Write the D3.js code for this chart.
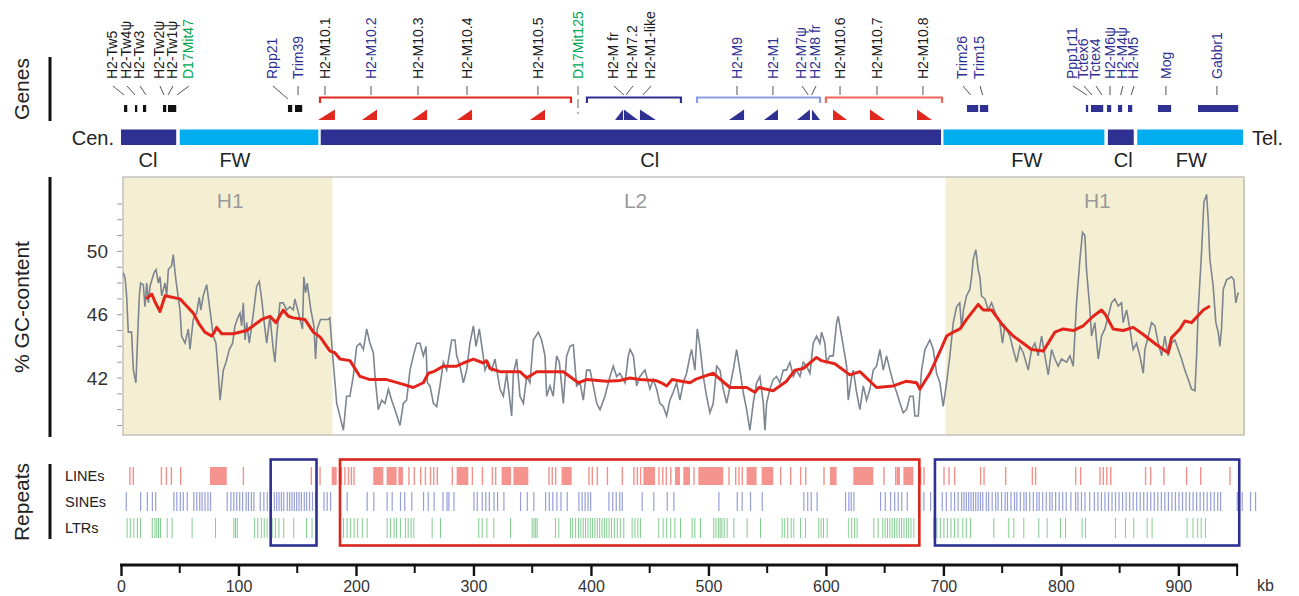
<!DOCTYPE html>
<html><head><meta charset="utf-8">
<script src="https://cdn.jsdelivr.net/npm/d3@7"></script>
<style>
body{margin:0;background:#fff;}
text{font-family:"Liberation Sans",Arial,Helvetica,sans-serif;}
</style></head>
<body><svg id="c" width="1299" height="596"></svg>
<script>
// ---------------- DATA ----------------
// Genomic segments (kb)
const segTypes  = ["Cl","FW","Cl","FW","Cl","FW"];
const segStart  = [0, 50, 170, 700, 840, 865];
const segEnd    = [47, 168, 698, 837, 862, 955];
const segLabelKb= [23, 97, 450, 771, 853, 911];

// Isochore regions of GC plot
const isoNames = ["H1","L2","H1"];
const isoStart = [0, 180, 700];
const isoEnd   = [180, 700, 955];
const isoLabelKb = [93, 438, 831];

// Gene labels: [name, label kb, connector target kb, colour key]
const geneLabels = [
 ["H2-Tw5",-7.7,2.6,"k"],["H2-Tw4\u03c8",4.3,11.9,"k"],["H2-Tw3",15.3,21.3,"k"],
 ["H2-Tw2\u03c8",32.3,36.6,"k"],["H2-Tw1\u03c8",43.4,40,"k"],["D17Mit47",57,47.7,"g"],
 ["Rpp21",128.5,142.1,"b"],["Trim39",150.7,150.7,"b"],
 ["H2-M10.1",173.6,173.6,"k"],["H2-M10.2",212.8,212.8,"b"],["H2-M10.3",252.8,252.8,"k"],
 ["H2-M10.4",294.5,294.5,"k"],["H2-M10.5",354.9,354.9,"k"],["D17Mit125",389,389,"g"],
 ["H2-M fr",418.8,428.1,"k"],["H2-M7.2",434.9,429.8,"k"],["H2-M1-like",450.3,444.3,"k"],
 ["H2-M9",524.3,524.3,"b"],["H2-M1",554.9,554.9,"b"],["H2-M7\u03c8",578.8,585,"b"],["H2-M8 fr",590.7,587.9,"b"],
 ["H2-M10.6",612,612,"k"],["H2-M10.7",643.5,643.5,"k"],["H2-M10.8",682.6,682.6,"k"],
 ["Trim26",715.8,723.2,"b"],["Trim15",730.3,733.4,"b"],
 ["Ppp1r11",809.4,822,"b"],["Tctex6",818.8,826.4,"b"],["Tctex4",829,835,"b"],
 ["H2-M6\u03c8",841.8,841.8,"b"],["H2-M4\u03c8",852,850.8,"b"],["H2-M5",861.4,859.8,"b"],
 ["Mog",889.4,889.4,"b"],["Gabbr1",932.8,932.8,"b"]
];
// Gene blocks [start kb, end kb, colour key]
const geneBlocks = [
 [2.6,6,"k"],[11.9,14.5,"k"],[18.7,22.1,"k"],[35.7,39.2,"k"],[40,47.7,"k"],
 [142.1,146.4,"k"],[148.1,154.9,"k"],
 [720.1,730.3,"b"],[731.1,738.8,"b"],[821.3,823.9,"b"],[825.6,836.7,"b"],[839.2,843.5,"b"],
 [848.6,852.8,"b"],[857.1,861.4,"b"],[882.6,894.5,"b"],[916.7,951.6,"b"]
];
// Oriented gene triangles [start, end, orientation, colour key]
const geneTriangles = [
 [167.7,182.1,"L","r"],[205.1,217.9,"L","r"],[247.7,260.5,"L","r"],[286,298.8,"L","r"],[348.1,360.9,"L","r"],
 [420.5,427.3,"L","b"],[428.1,440,"R","b"],[441.7,455.3,"R","b"],
 [517.5,530.3,"L","b"],[547.3,559.2,"L","b"],[575.4,586.4,"L","b"],[588.1,595,"R","b"],
 [606,618,"R","r"],[637.5,650.3,"R","r"],[677.5,690.3,"R","r"]
];
// Gene cluster brackets [start, end, colour key]
const brackets = [[169.4,383,"r"],[396.6,476.6,"b"],[490.3,595,"lb"],[600,698.8,"lr"]];

// GC content (kb, %GC) raw sliding window
const gcRaw = [
[2,48.65],[3.5,48.3],[4.8,47.2],[6.2,44.9],[9,44.9],[10.5,42.5],[12.7,41.7],[14.2,44.65],[15.6,47.2],[16.7,48],[19,47.9],[20.4,46.5],[21.9,48],[23.3,46.75],[24.7,47.8],[28.1,48.65],[29.8,48.85],[31.8,48],[33.2,48.4],[34.6,47.2],[37.5,48],[38.9,47.2],[40.3,48.85],[43.1,49.1],[44.5,49.8],[46,48.65],[47.4,47.8],[50.2,46.3],[51.6,44.65],[54.5,44.2],[57.3,45.1],[58.7,43.8],[61.5,45.7],[64.4,46.1],[66.6,47.1],[68,46.3],[70,47.2],[72.9,47.9],[75.7,46.3],[78.6,44.65],[80.8,44.2],[82.8,42.3],[84.3,40.6],[87.1,42.5],[89.4,43],[92.2,43.8],[95,44.2],[97,45.3],[99.9,45.9],[101.3,46.1],[102.7,45.3],[104.1,46.75],[105.6,44.4],[107,45.5],[109.2,44.2],[112,45.7],[115.5,47.8],[117.7,48.1],[119.7,47],[122.5,45.1],[124,44.2],[126.8,45.9],[129.6,43.8],[131,43],[132.5,44.65],[135.3,46.75],[138.1,46.75],[141,46.3],[143.8,46.5],[146.6,46.3],[148,47],[151.7,45.9],[154.5,45.1],[155.6,48.4],[157.1,47.4],[158.5,48],[161.6,46.3],[164.2,45.3],[165.6,43.2],[167,45.1],[169.8,45.7],[172.6,45.7],[176.3,45.7],[177.7,45.8],
[180,43.6],[183.6,40.4],[189.3,38.7],[192,40.85],[194.8,40.85],[197.7,42.1],[200.6,44],[203.4,44.2],[206.3,43.8],[209.1,45.1],[211.9,44.2],[214.8,43.6],[216.2,42.1],[219,40],[221.9,40.6],[224.7,40.4],[227.6,41.3],[230.4,40.6],[233.2,40],[237.5,39],[240.3,40.4],[243.1,40.6],[246,42.5],[248.8,43.4],[251.7,44.2],[254.5,44.2],[257.3,43.4],[259.6,44],[260.8,41.7],[263,41.5],[265.9,40.4],[268.7,40.2],[271.5,41.5],[274.4,43],[277.2,42.5],[281.5,44.4],[284.3,44.4],[285.7,43.4],[288.6,42.75],[291.4,41.7],[294.2,42.5],[297,44.2],[299.9,45.3],[302.2,44],[305,45.1],[307.9,43.6],[309.8,42.5],[312.7,43],[315.5,42.5],[318.3,43.2],[322.6,41.3],[325.4,40.85],[328.3,42.3],[332.5,39.6],[334,42.3],[336.8,43.2],[339.6,40.85],[342.5,40.4],[345.3,42.1],[348.1,41.7],[351,44.4],[355.2,44.9],[358,44.4],[360.9,43.4],[362.3,40.85],[365.1,41.5],[367.9,40.85],[370.8,43.4],[373.1,43],[376.5,40.4],[379.3,43.4],[382.2,44],[385,44.1],[387.8,41.5],[390.7,41.7],[393.5,40.6],[396.3,42.5],[399.2,42.5],[402,41.5],[404.9,40.4],[407.7,40],[411.9,40.85],[416.2,42.1],[419,42.75],[421.9,42.1],[424.7,42.3],[429,41.7],[431.8,43.4],[433.3,43.8],[436.1,43.4],[438.9,41.5],[441.7,42.1],[446,42.5],
[450.2,41.3],[453,41.9],[455.9,41.3],[458.7,40.4],[461.6,40.2],[464.4,39.6],[467.2,40.6],[470,41.1],[472.9,41.7],[475.7,40.6],[478.6,41.7],[481.4,42.3],[484.3,43.4],[485.7,43.8],[488.5,42.5],[490.5,45.1],[492.8,44],[495.6,42.1],[498.4,40.85],[501.3,39.8],[504.1,40.4],[507,42.75],[509.8,42.5],[512.6,41.3],[515.5,40.4],[521.1,42.5],[524,43.8],[526.8,42.5],[529.6,41.1],[532.5,40],[535.3,38.7],[538.1,40.4],[541,41.7],[543.8,42.1],[546.7,40.4],[548.1,38.7],[549.5,40.4],[552.3,41.3],[555.1,41.9],[558,42.1],[560.8,41.7],[563.7,42.5],[566.5,42.5],[569.4,43],[572.2,42.1],[575,42.5],[577.9,42.1],[580.7,43],[583.5,42.75],[586.4,42.3],[589.2,44.2],[592,44.65],[594.9,44.2],[596.3,44.9],[599.1,44.2],[600.5,43],[603.4,43.4],[606.2,43.4],[609.1,45.5],[610.5,45.9],[613.3,44.65],[616.2,43.4],[617.6,42.75],[619,40.6],[621.9,42.1],[623.3,42.5],[626.1,41.1],[628.9,40],[631.8,41.5],[634.6,40.6],[637.5,41.3],[640.3,42.5],[643.1,42.75],[646,43.8],[648.8,42.5],[651.6,43.4],[654.5,42.5],[657.3,41.7],[660.2,41.1],[663,40.4],[665.8,39.8],[668.6,40],[671.5,40.85],[674.3,40.85],[675.7,39.6],[678.6,39.6],[681.4,42.5],[684.3,43.8],[687.1,44.2],[688.5,44.4],
[691.4,43.8],[694.2,42.3],[697,41.7],[699.8,40.2],[702.7,41.7],[705.5,43.4],[708.4,45.5],[711.2,46.5],[713.9,46.75],[715.5,45.1],[717.1,46.3],[719.7,47.2],[722.5,47.6],[724,48.4],[725.4,49.5],[727.6,50.1],[729.6,48.85],[731,48.4],[732.4,47.2],[735.3,47],[738.1,46.3],[741,46.75],[745.2,45.9],[748,45.5],[750.3,44.2],[752.3,45.3],[756.6,44.65],[759.4,43.8],[762.3,43],[765.1,44],[768,43.6],[772.2,42.5],[775,43.8],[777.9,44.2],[780.7,43.4],[783.6,44.65],[786.4,43.4],[789.2,42.2],[792.1,43.8],[794.9,43.2],[797.7,42.75],[800.5,43.2],[804.8,43],[807.7,43.4],[810.5,42.75],[813.3,46.75],[816.2,49.5],[818.4,51.2],[820.4,51],[821.8,48.85],[824.7,46.3],[826.1,44.65],[828.9,45.5],[831.8,43.2],[834.6,44.65],[837.4,45.1],[840.3,45.9],[843.1,46.75],[845.9,47],[848.8,46.55],[851.6,46.75],[853,45.5],[855.9,46.3],[858.7,45.1],[861.5,43.8],[864.4,44.2],[867.2,43.4],[870.1,42.3],[871.5,43.8],[874.4,44.65],[877.2,45.5],[880,45.3],[882.9,44.2],[885.7,43.4],[888.5,44.65],[891.3,43.4],[894.2,44.2],[897,44.4],[899.9,43.8],[902.7,43.2],[905.5,42.5],[908.4,41.9],[911.2,41.3],[914.1,41.2],[915.5,43.4],[916.9,46.3],[919.7,49.9],[921.7,53.1],[924,53.6],[925.4,52],[926.8,49.5],[929.6,47.8],[931.9,45.5],[933.9,44.9],[935.3,44],[936.7,45.1],[938.2,47.6],[941,48.2],[945.2,48.4],[947.2,48.2],[948.9,46.75],[950.9,47.4]
];
// GC content smoothed
const gcSmooth = [
[21.3,47],[26.2,47.3],[29,46.8],[33.2,46.2],[37.5,47.2],[50.2,47],[55.9,46.55],[61.5,46.1],[66.6,45.4],[71.4,44.9],[77.1,44.65],[79.5,44.9],[81.4,45.2],[85.7,44.8],[95.6,44.8],[107,45],[112.6,45.3],[119.7,45.7],[126.8,45.9],[131.9,45.5],[138.1,46.3],[142.4,45.9],[146.6,45.8],[156.5,45.7],[163.7,44.9],[169.4,44.6],[177.9,43.7],[182,43.6],[186.4,43.2],[194.9,43.1],[203.4,42.1],[212,41.9],[226.1,41.9],[240.3,41.6],[248.8,41.4],[257.3,41.7],[261.6,42.3],[266,42.4],[274.4,42.75],[285.7,42.75],[291.4,42.95],[299.9,43.2],[308.4,42.95],[311,43.1],[314.1,42.6],[322.6,42.4],[339.6,42.4],[345.3,42],[353.8,42.4],[376.5,42.4],[389.3,41.7],[396.3,41.9],[413.4,41.8],[425,41.85],[433.3,42],[441.7,41.9],[455,41.85],[460,41.7],[464.4,41.5],[469,41.9],[484.3,41.7],[490,41.95],[504.1,42.3],[518.3,41.4],[532.5,41.4],[539.6,41.1],[543,41.4],[555.1,41.2],[566.5,41.8],[573.6,42.5],[580.7,42.6],[592,43.3],[596,43.1],[607.6,42.9],[620.4,42.2],[628.9,42.4],[643.1,41.4],[657.3,41.5],[668.6,41.8],[677.2,41.7],[680,41.3],[688.5,42.3],[698.4,43.9],[702.7,44.65],[708.4,44.9],[714.1,45.1],[719.7,45.7],[729.6,46.65],[734,46.3],[741,46.3],[750.9,45.3],[759.4,44.65],[767.9,44.2],[775,43.8],[785,43.7],[794.9,44.9],[802,45.1],[810.5,45],[819,45.3],[827.5,45.9],[834.6,46.3],[838,46],[844.5,45.1],[853,45],[861.6,45.2],[870.1,44.75],[881.4,44.1],[891.3,43.6],[894.2,44.55],[901.3,45.1],[905.5,45.6],[911.2,45.5],[921.2,46.3],[926.8,46.55]
];
const gcTickLabels = [42, 46, 50];
const gcMinorTicks = [39,40,41,42,43,44,45,46,47,48,49,50,51,52,53];

// Repeats: single elements (kb) and dense blocks [start,end]
const lineSingles = [7,9.9,33.8,38,42.3,50.2,103.6,161.4,168.8,187,190,193,195.5,197.7,244.5,249,254.5,258.5,262.8,265.6,268.6,281.4,298.5,307,315.5,318.3,363.7,366.5,369.4,397.7,400.6,404.8,413.4,426.1,436,438.9,441.7,457.3,460.5,463.5,467.3,487.1,516.9,522.6,525.4,528.2,560.9,569.4,577.9,582.2,597.8,648.8,658.8,680,682.9,699.9,704.2,709,731.1,734,752.4,775.1,777.9,812,816.2,832.7,835.5,838.5,841.8,871.5,875.8,887.1,906.4,918.4,943.3];
const lineBlocks = [[75.7,90],[179.3,183.6],[214.7,223.2],[226.1,234.6],[236,240],[285.7,295.6],[324,332],[334,346.7],[375,383.6],[444.6,454.5],[471.5,475.8],[478.6,484.3],[491.4,512.6],[532.5,541],[545.3,555.2],[603.4,609.1],[623.3,640.3],[660.2,663],[665.9,674.4]];
const sineSingles = [4,16.2,21.9,26.2,29,44.5,47,50,52.5,55.9,61.5,64,66.5,68.5,71,73.5,75.7,89.9,93,95.5,98,100.5,103,106,108,110.5,112.6,118,121.1,124,127,130,132,134,136,138,141,143,145,147,149,151,153,155.5,157.5,160,162.5,165.1,172.3,175,177.9,192,209,214.7,226,230.3,237.4,241,247,257,261,266,273.5,277,278.6,282.9,299.9,302.7,307,310,313,317,320,325.4,339.6,345.3,350.9,360.9,364,367,370.5,374,379.3,389.2,392,394.5,397,399.2,414.8,418,421,424,426.1,443.1,453,464.4,470.1,508.4,524,528.2,535.3,545.3,580.7,584,587,592,616.2,619,621,623.3,646,650,654.5,658,661,664,668.7,682.9,688.6,698.5,702,706,709,712,715,717,719,721,723,725,727,729,731,733,736,738,741,744,746,749,752,754,757,760,762,765,768,770,773,776,779,781,784,787,790,792,795,798,801,804,808,812,814,817,820,824,828,831,834,837,840,843,846,849,852,855,858,861,864,867,870,873,876,879,882,885,888,891,894,897,900,903,906,909,912,915,918,921,924,927,930,933,935.4,949.6,953.8,960.9,965.2];
const ltrSingles = [4.8,7.5,10.5,13.5,16.2,26.2,28.5,30,31.5,33.2,38.9,43.1,60.1,80,95.6,97,98.5,113.3,116,119,121.5,124,128.2,131,134,138.1,146.6,157.4,162.2,186.4,189,192,195,198,201,205,209.1,226.1,229,232,234,237.4,241.7,244,246.5,248.8,264.4,271.5,304.1,307,311,316.9,331.1,349.5,351,352.5,353.8,369.4,372.2,382.1,384,386.5,389,391,393,395,397,399,401,403,405,407,409,411,413,415,417,419.5,422,424.5,427.5,434.6,437,439.5,441.7,457.3,461,464,467.5,471,475.8,485.7,488,492.8,504.1,506,508,509.5,511,513,515.5,521.2,532.5,543.9,562.3,564.5,567,570,572.2,577.9,582.2,593.5,595.5,597.5,600.6,619,621.5,624,626.1,640.3,644,648,650,652,654,656,658,660,662,664,666,668,670,672,674.4,691.4,694,697,700,703,706,709,712,716,719,722.6,742.5,755.2,759.5,768,780.8,787.9,799.2,803.5,817.6,820.5,846,854.5,861.6,873,877.2,907,912,916,919,922.6];
const repeatRows = ["LINEs","SINEs","LTRs"];
const repeatBoxes = [[127.4,166.4,"b"],[186.4,679.5,"r"],[692.8,951.8,"b"]];

const axisMajor = [0,100,200,300,400,500,600,700,800,900];
const axisMinor = [50,150,250,350,450,550,650,750,850,950];

// ---------------- DRAW ----------------
const col = {k:"#1a1a1a", b:"#2e3192", g:"#00a651", r:"#e0281e", lr:"#f2665a", lb:"#8c9de3"};
const svg = d3.select("#c");
const x = d3.scaleLinear().domain([0,955]).range([121,1243]);
const y = d3.scaleLinear().domain([38.4,54.7]).range([435,177]);

// left panel titles and bars
const titles = [["Genes",89,57,121],["% GC-content",307,177,437],["Repeats",502,464,539]];
titles.forEach(t=>{
  svg.append("text").attr("transform",`translate(29,${t[1]}) rotate(-90)`)
    .attr("text-anchor","middle").attr("font-size",21).attr("fill","#222").text(t[0]);
  svg.append("line").attr("x1",50).attr("x2",50).attr("y1",t[2]).attr("y2",t[3])
    .attr("stroke","#111").attr("stroke-width",3);
});

// gene labels
const gl = svg.append("g");
geneLabels.forEach(d=>{
  gl.append("text").attr("transform",`translate(${x(d[1])},79) rotate(-90)`)
    .attr("dy","0.36em").attr("font-size",14).attr("fill",col[d[3]]).text(d[0]);
  if(d[0]==="D17Mit125"){
    gl.append("line").attr("x1",x(d[1])).attr("x2",x(d[2])).attr("y1",86).attr("y2",114)
      .attr("stroke","#666").attr("stroke-width",1).attr("stroke-dasharray","9,4");
  } else {
    gl.append("line").attr("x1",x(d[1])+ (d[1]===d[2]?0:1)).attr("x2",x(d[2])).attr("y1",86).attr("y2",d[0]==="Rpp21"?99:95)
      .attr("stroke","#555").attr("stroke-width",1);
  }
});
// brackets
brackets.forEach(b=>{
  svg.append("path").attr("d",`M${x(b[0])},103 V97.5 H${x(b[1])} V103`)
    .attr("fill","none").attr("stroke",col[b[2]]).attr("stroke-width",2.2);
});
// gene blocks
svg.selectAll(".gb").data(geneBlocks).join("rect")
  .attr("x",d=>x(d[0])).attr("width",d=>Math.max(1.5,x(d[1])-x(d[0])-0.8))
  .attr("y",105).attr("height",7).attr("fill",d=>d[2]==="k"?"#111":"#2e3192");
// triangles
svg.selectAll(".tri").data(geneTriangles).join("path")
  .attr("d",d=>{const a=x(d[0]),b=x(d[1]);
    return d[2]==="L"?`M${a},120 L${b},120 L${b},109.5 Z`:`M${a},120 L${a},109.5 L${b},120 Z`;})
  .attr("fill",d=>d[3]==="r"?"#e0281e":"#2e3192");

// segment bar
segTypes.forEach((t,i)=>{
  svg.append("rect").attr("x",x(segStart[i])).attr("width",x(segEnd[i])-x(segStart[i]))
    .attr("y",129.5).attr("height",15.5).attr("fill",t==="Cl"?"#2e3192":"#00aeef");
  svg.append("text").attr("x",x(segLabelKb[i])).attr("y",167).attr("text-anchor","middle")
    .attr("font-size",20).attr("fill","#222").text(t);
});
svg.append("text").attr("x",114).attr("y",145).attr("text-anchor","end").attr("font-size",20).attr("fill","#222").text("Cen.");
svg.append("text").attr("x",1252).attr("y",145).attr("font-size",20).attr("fill","#222").text("Tel.");

// GC panel
isoNames.forEach((n,i)=>{
  if(n==="H1") svg.append("rect").attr("x",x(isoStart[i])+2).attr("width",x(isoEnd[i])-x(isoStart[i])-(i===0?2:0))
    .attr("y",177).attr("height",258).attr("fill","#f4efd2");
  svg.append("text").attr("x",x(isoLabelKb[i])).attr("y",208).attr("text-anchor","middle")
    .attr("font-size",21).attr("fill","#9a9a9a").text(n);
});
svg.append("rect").attr("x",x(0)+2).attr("y",177).attr("width",x(955)-x(0)-1).attr("height",258)
  .attr("fill","none").attr("stroke","#b5b5b5").attr("stroke-width",1.2);
gcMinorTicks.forEach(v=>{
  svg.append("line").attr("x1",117).attr("x2",122).attr("y1",y(v)).attr("y2",y(v))
    .attr("stroke","#999").attr("stroke-width",1);
});
gcTickLabels.forEach(v=>{
  svg.append("text").attr("x",108).attr("y",y(v)).attr("dy","0.35em").attr("text-anchor","end")
    .attr("font-size",19).attr("fill","#333").text(v);
});
const lineGen = d3.line().x(d=>x(d[0])).y(d=>y(d[1]));
svg.append("path").attr("d",lineGen(gcRaw)).attr("fill","none").attr("stroke","#7d8590").attr("stroke-width",1.6);
svg.append("path").attr("d",lineGen(gcSmooth)).attr("fill","none")
  .attr("stroke","#e3241b").attr("stroke-width",3).attr("stroke-linejoin","round");

// Repeats
const rowY = [467,492,518], rowH = [18,19,20];
const rowCol = ["#f0625a","#5d6bc6","#2eae45"];
repeatRows.forEach((r,i)=>{
  svg.append("text").attr("x",65).attr("y",rowY[i]+rowH[i]/2).attr("dy","0.35em")
    .attr("font-size",14.5).attr("fill","#222").text(r);
});
const rep = svg.append("g");
rep.selectAll(".lb").data(lineBlocks).join("rect").attr("x",d=>x(d[0])).attr("width",d=>x(d[1])-x(d[0]))
  .attr("y",rowY[0]).attr("height",rowH[0]).attr("fill",rowCol[0]).attr("opacity",0.68);
rep.selectAll(".ls").data(lineSingles).join("rect").attr("x",d=>x(d)).attr("width",1.4)
  .attr("y",rowY[0]).attr("height",rowH[0]).attr("fill",rowCol[0]).attr("opacity",0.7);
rep.selectAll(".ss").data(sineSingles).join("rect").attr("x",d=>x(d)).attr("width",1.2)
  .attr("y",rowY[1]).attr("height",rowH[1]).attr("fill",rowCol[1]).attr("opacity",0.65);
rep.selectAll(".ts").data(ltrSingles).join("rect").attr("x",d=>x(d)).attr("width",1)
  .attr("y",rowY[2]).attr("height",rowH[2]).attr("fill",rowCol[2]).attr("opacity",0.6);
repeatBoxes.forEach(b=>{
  svg.append("rect").attr("x",x(b[0])).attr("width",x(b[1])-x(b[0])).attr("y",459.5).attr("height",86)
    .attr("fill","none").attr("stroke",b[2]==="r"?"#d9261c":"#2e3192").attr("stroke-width",2.6);
});

// x axis
const ax = svg.append("g").attr("transform","translate(0,565)");
ax.call(d3.axisBottom(x).tickValues(axisMajor).tickSize(11).tickPadding(5).tickSizeOuter(0));
ax.select(".domain").remove();
ax.selectAll(".tick line").attr("stroke","#111").attr("stroke-width",2.4);
ax.selectAll(".tick text").attr("font-size",16).attr("fill","#333")
  .attr("font-family","'Liberation Sans',Arial,sans-serif");
axisMinor.forEach(v=>{
  ax.append("line").attr("x1",x(v)).attr("x2",x(v)).attr("y1",0).attr("y2",v===950?11:8)
    .attr("stroke","#111").attr("stroke-width",2);
});
ax.append("line").attr("x1",x(0)-1).attr("x2",x(950)+1).attr("y1",0).attr("y2",0)
  .attr("stroke","#111").attr("stroke-width",2.8);
svg.append("text").attr("x",1257).attr("y",591).attr("font-size",16).attr("fill","#333").text("kb");
</script></body></html>
